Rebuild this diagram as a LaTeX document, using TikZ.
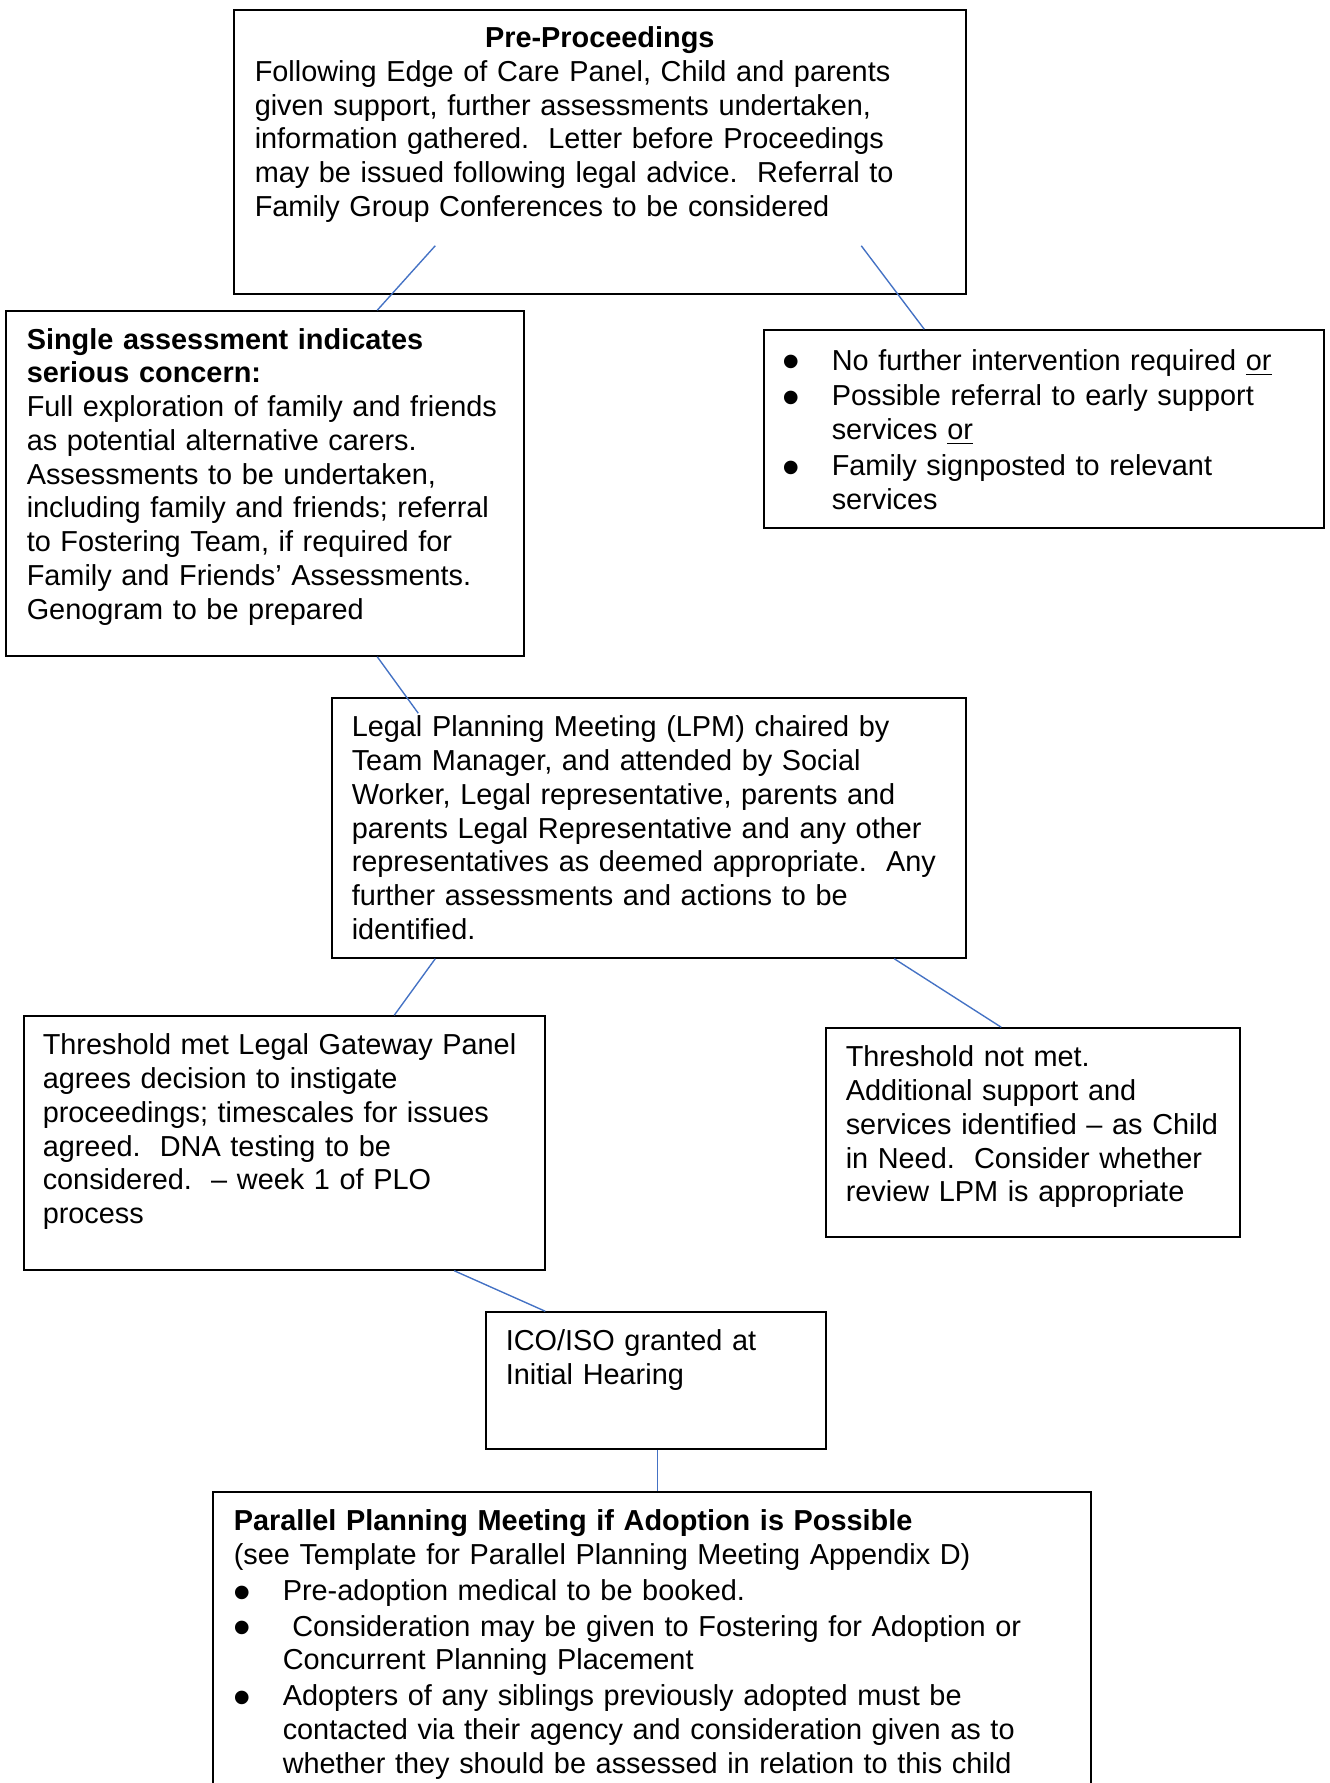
\documentclass[tikz,border=0pt]{standalone}
\usepackage{fontspec}
\setmainfont{Liberation Sans}
\usetikzlibrary{calc,fit}

\definecolor{linkblue}{RGB}{68,114,196}
\newlength{\bulw}
\setlength{\bulw}{19.6pt}
\newcommand{\lbul}{\makebox[\bulw][l]{\raisebox{-3.5pt}{\fontsize{20}{0}\selectfont\textbullet}}}
\newcommand{\bitem}{\par\hangindent=\bulw\hangafter=1\lbul}

\tikzset{
  box/.style={draw, line width=0.6pt, inner sep=0pt},
  txt/.style={inner sep=0pt, anchor=base west, align=left, font=\fontsize{11.55}{13.5}\selectfont},
  link/.style={draw=linkblue, line width=0.55pt}
}

\begin{document}
\frenchspacing
\begin{tikzpicture}[x=0.4pt, y=-0.4pt]
      \useasboundingbox (0,0) rectangle (1330,1783);
      \clip (0,0) rectangle (1330,1783);
      % Define boxes
      \node[box, fit={(234,10) (966,294)}]     (pre) {};
      \node[box, fit={(6,311) (524,656)}]      (single) {};
      \node[box, fit={(764,330) (1324,528)}]   (nofurther) {};
      \node[box, fit={(332,698) (966,958)}]    (lpm) {};
      \node[box, fit={(24,1016) (545,1270)}]   (met) {};
      \node[box, fit={(826,1028) (1240,1237)}] (notmet) {};
      \node[box, fit={(486,1312) (826,1449)}]  (ico) {};
      \node[box, fit={(213,1492) (1091,1820)}] (parallel) {};
      % Box texts
      \node[txt, text width=276pt] (pretext) at ($(pre.north west)+(21,38.5)$)
        {{\centering\textbf{Pre-Proceedings}\par}%
         Following Edge of Care Panel, Child and parents\\
         given support, further assessments undertaken,\\
         information gathered.\ \ Letter before Proceedings\\
         may be issued following legal advice.\ \ Referral to\\
         Family Group Conferences to be considered};
      \node[txt, text width=207pt] (singletext) at ($(single.north west)+(21,39)$)
        {\textbf{Single assessment indicates}\\
         \textbf{serious concern:}\\
         Full exploration of family and friends\\
         as potential alternative carers.\\
         Assessments to be undertaken,\\
         including family and friends; referral\\
         to Fostering Team, if required for\\
         Family and Friends’ Assessments.\\
         Genogram to be prepared};
      \node[txt, text width=220pt] (nofurthertext) at ($(nofurther.north west)+(19,41)$)
        {\setlength{\parskip}{0.8pt}%
         \hangindent=\bulw\hangafter=1\lbul No further intervention required \underline{or}
         \bitem Possible referral to early support\newline
         services \underline{or}
         \bitem Family signposted to relevant\newline
         services\par};
      \node[txt, text width=250pt] (lpmtext) at ($(lpm.north west)+(20,39.5)$)
        {Legal Planning Meeting (LPM) chaired by\\
         Team Manager, and attended by Social\\
         Worker, Legal representative, parents and\\
         parents Legal Representative and any other\\
         representatives as deemed appropriate.\ \ Any\\
         further assessments and actions to be\\
         identified.};
      \node[txt, text width=205pt] (mettext) at ($(met.north west)+(19,39.5)$)
        {Threshold met Legal Gateway Panel\\
         agrees decision to instigate\\
         proceedings; timescales for issues\\
         agreed.\ \ DNA testing to be\\
         considered.\ \ – week 1 of PLO\\
         process};
      \node[txt, text width=162pt] (notmettext) at ($(notmet.north west)+(20,39.5)$)
        {Threshold not met.\\
         Additional support and\\
         services identified – as Child\\
         in Need.\ \ Consider whether\\
         review LPM is appropriate};
      \node[txt, text width=130pt] (icotext) at ($(ico.north west)+(20,39)$)
        {ICO/ISO granted at\\
         Initial Hearing};
      \node[txt, text width=345pt] (paralleltext) at ($(parallel.north west)+(21,39.5)$)
        {\setlength{\parskip}{0.8pt}%
         \textbf{Parallel Planning Meeting if Adoption is Possible}\newline
         (see Template for Parallel Planning Meeting Appendix D)
         \bitem Pre-adoption medical to be booked.
         \bitem\ Consideration may be given to Fostering for Adoption or\newline
         Concurrent Planning Placement
         \bitem Adopters of any siblings previously adopted must be\newline
         contacted via their agency and consideration given as to\newline
         whether they should be assessed in relation to this child\par};
      % Connect boxes
      \draw[link] ($(pre.south west)+(202,-49)$) -- ($(single.north west)+(372,0)$);
      \draw[link] ($(pre.south west)+(628,-49)$) -- ($(nofurther.north west)+(161,0)$);
      \draw[link] ($(single.south west)+(372,0)$) -- ($(lpm.north west)+(87,16)$);
      \draw[link] ($(lpm.south west)+(104,0)$) -- ($(met.north west)+(371,0)$);
      \draw[link] ($(lpm.south west)+(563,0)$) -- ($(notmet.north west)+(176,0)$);
      \draw[link] ($(met.south west)+(431,0)$) -- ($(ico.north west)+(60,0)$);
      \draw[link] ($(ico.south west)+(172,0)$) -- ($(parallel.north west)+(445,0)$);
    \end{tikzpicture}
\end{document}
